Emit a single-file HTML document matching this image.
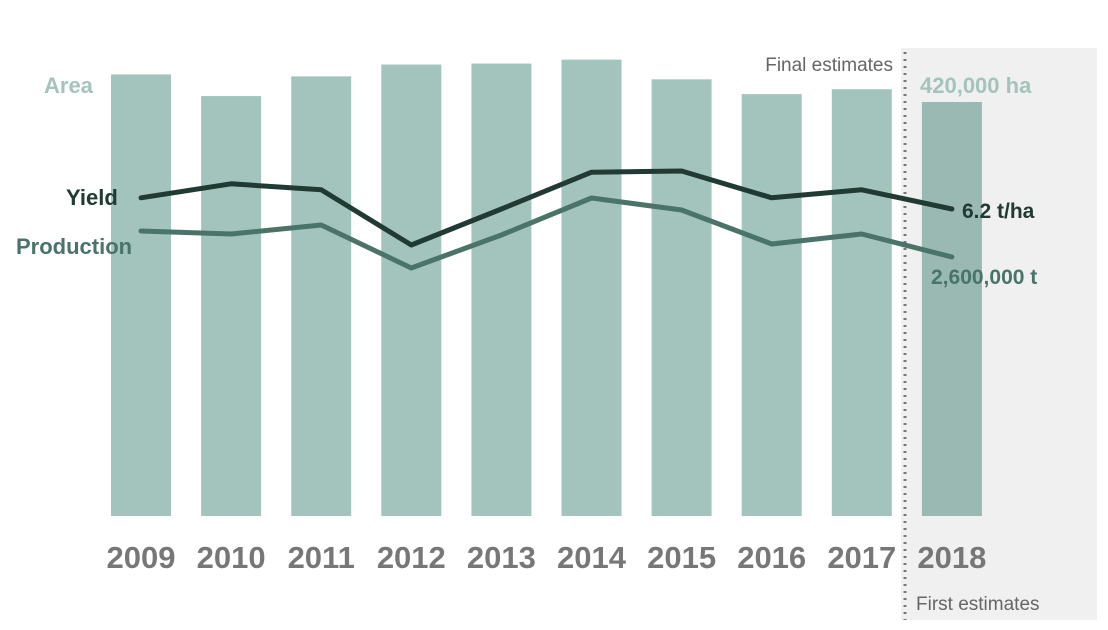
<!DOCTYPE html>
<html><head><meta charset="utf-8">
<style>
html,body{margin:0;padding:0;background:#fff;}
svg{display:block;font-family:"Liberation Sans",sans-serif;}
</style></head>
<body>
<svg id="chart" width="1108" height="630" viewBox="0 0 1108 630">
<rect x="901" y="48" width="196" height="572" fill="#f0f0f0"/>
<line x1="905" y1="52" x2="905" y2="620" stroke="#777" stroke-width="3" stroke-dasharray="2,5"/>
<g id="bars"></g>
<g id="lines"></g>
<g id="labels"></g>
<text x="44" y="93" font-size="22" font-weight="bold" fill="#a3c4bd">Area</text>
<text x="66" y="205" font-size="22" font-weight="bold" fill="#213a33">Yield</text>
<text x="16" y="254" font-size="22" font-weight="bold" fill="#4a7369">Production</text>
<text x="893" y="71" font-size="19" fill="#666" text-anchor="end">Final estimates</text>
<text x="916" y="610" font-size="19" fill="#666">First estimates</text>
<text x="920" y="93" font-size="22" font-weight="bold" fill="#a3c4bd">420,000 ha</text>
<text x="962" y="218" font-size="21" font-weight="bold" fill="#213a33">6.2 t/ha</text>
<text x="931" y="284" font-size="21" font-weight="bold" fill="#4a7369">2,600,000 t</text>
</svg>
<script>
const years = ["2009","2010","2011","2012","2013","2014","2015","2016","2017","2018"];
const areaK = [448, 426, 446, 458, 459, 463, 443, 428, 433, 420];
const yieldT = [6.48, 6.83, 6.68, 5.30, 6.20, 7.12, 7.15, 6.48, 6.68, 6.20];
const prodMt = [2.86, 2.83, 2.92, 2.49, 2.82, 3.19, 3.07, 2.73, 2.83, 2.60];

const NS = "http://www.w3.org/2000/svg";
const xC = i => 141 + i * 90.1;
const yArea = v => 516 - v * 414 / 420;
const yYield = v => 209 - (v - 6.2) * 40;
const yProd = v => 257 - (v - 2.6) * 100;

const bars = document.getElementById("bars");
areaK.forEach((v, i) => {
  const r = document.createElementNS(NS, "rect");
  r.setAttribute("x", xC(i) - 30);
  r.setAttribute("y", yArea(v));
  r.setAttribute("width", 60);
  r.setAttribute("height", 516 - yArea(v));
  r.setAttribute("fill", i === years.length - 1 ? "#99b9b2" : "#a3c4bd");
  
  
  bars.appendChild(r);
});

const lines = document.getElementById("lines");
function drawLine(vals, yf, color, name) {
  const p = document.createElementNS(NS, "polyline");
  p.setAttribute("points", vals.map((v, i) => xC(i) + "," + yf(v)).join(" "));
  p.setAttribute("fill", "none");
  p.setAttribute("stroke", color);
  p.setAttribute("stroke-width", 5);
  p.setAttribute("stroke-linecap", "round");
  p.setAttribute("stroke-linejoin", "round");
  
  
  lines.appendChild(p);
}
drawLine(prodMt, yProd, "#4a7369", "production-line");
drawLine(yieldT, yYield, "#213a33", "yield-line");

const labels = document.getElementById("labels");
years.forEach((y, i) => {
  const t = document.createElementNS(NS, "text");
  t.setAttribute("x", xC(i));
  t.setAttribute("y", 568);
  t.setAttribute("text-anchor", "middle");
  t.setAttribute("font-size", 31);
  t.setAttribute("font-weight", "bold");
  t.setAttribute("fill", "#777");
  t.textContent = y;
  
  
  labels.appendChild(t);
});
</script>
</body></html>
